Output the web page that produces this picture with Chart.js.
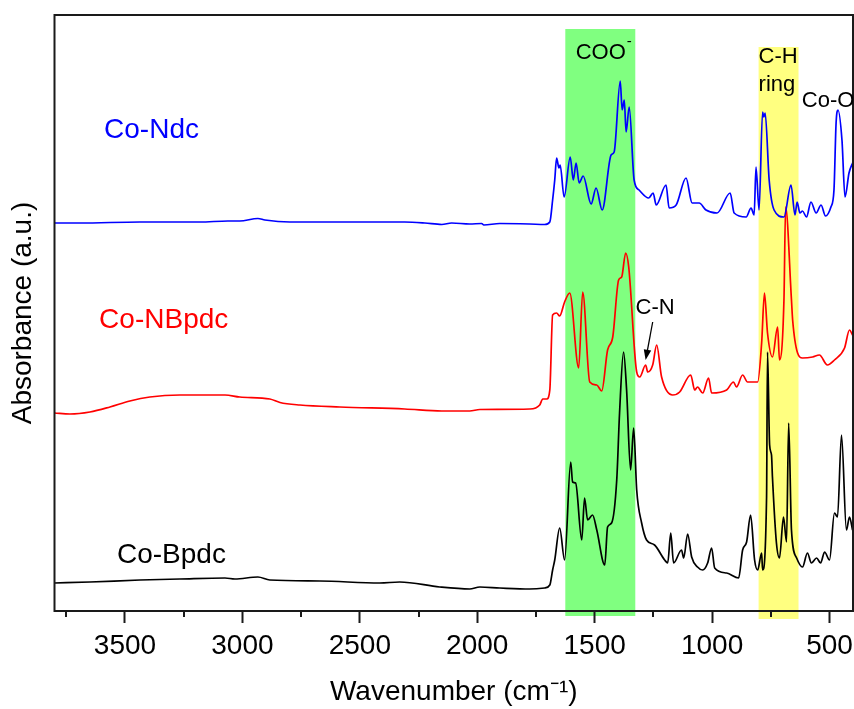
<!DOCTYPE html>
<html>
<head>
<meta charset="utf-8">
<script src="https://cdn.jsdelivr.net/npm/chart.js@4.4.1/dist/chart.umd.min.js"></script>
<style>
  html, body { margin: 0; padding: 0; background: #fff; }
  #wrap { width: 854px; height: 709px; }
</style>
</head>
<body>
<div id="wrap"><canvas id="ftir"></canvas></div>
<script>
// FTIR spectra, stacked with offsets: [wavenumber (cm-1), absorbance (a.u.)]
const coNdc = [
  [3800, 388], [3691, 388], [3436, 389], [3181, 389], [3062, 390], [3011, 390],
  [2934, 392.5], [2904, 391], [2798, 389], [2309, 389], [2223, 388], [2151, 386.5],
  [2109, 388], [2032, 387], [1981, 387.5], [1972, 386], [1904, 387.5], [1777, 387],
  [1713, 386.5], [1691, 389], [1679, 411], [1670, 431], [1662, 453], [1652, 443],
  [1647, 446], [1630, 414], [1604, 454], [1591, 431], [1579, 448], [1566, 428],
  [1549, 435], [1515, 407], [1494, 423], [1468, 401], [1430, 456], [1417, 459],
  [1391, 530], [1383, 501], [1374, 511], [1366, 479], [1353, 504], [1332, 431],
  [1311, 421], [1270, 413], [1251, 418], [1238, 406], [1196, 426], [1183, 403],
  [1153, 406], [1111, 433], [1085, 408], [1055, 408], [1026, 401], [979, 398],
  [923, 418], [906, 398], [855, 394], [834, 403], [821, 396], [813, 444],
  [800, 401], [785, 499], [780, 494], [774, 498], [757, 431], [736, 401],
  [694, 394], [664, 426], [647, 396], [638, 409], [626, 398], [615, 400],
  [598, 394], [579, 409], [557, 398], [536, 406], [517, 395], [494, 404],
  [481, 421], [472, 488], [464, 501], [447, 471], [434, 414], [417, 438], [400, 449]
];

const coNBpdc = [
  [3800, 198], [3734, 197], [3649, 199], [3564, 204], [3479, 210], [3394, 214],
  [3266, 216], [3138, 216], [3074, 216], [3011, 214], [2883, 212], [2840, 208.5],
  [2755, 206], [2585, 204], [2309, 202], [2151, 200], [2032, 200], [1989, 201.5],
  [1777, 202], [1734, 206], [1721, 212], [1704, 212], [1691, 221], [1679, 296],
  [1662, 298], [1649, 295], [1628, 309], [1606, 318], [1568, 243], [1551, 319],
  [1521, 229], [1491, 226], [1470, 220], [1445, 261], [1423, 274], [1398, 331],
  [1385, 334], [1368, 358], [1355, 344], [1321, 239], [1308, 234], [1283, 246],
  [1274, 239], [1253, 246], [1236, 266], [1215, 234], [1168, 216], [1138, 219],
  [1091, 236], [1074, 221], [1062, 224], [1040, 218], [1015, 233], [1002, 218],
  [938, 221], [909, 229], [896, 224], [870, 236], [849, 229], [806, 229],
  [789, 268], [777, 318], [764, 278], [743, 254], [721, 284], [713, 251],
  [694, 311], [687, 404], [662, 311], [657, 291], [636, 258], [615, 253],
  [572, 254], [543, 256], [509, 246], [479, 251], [436, 263], [415, 281], [402, 276]
];

const coBpdc = [
  [3800, 28], [3649, 29], [3436, 31], [3266, 32], [3074, 33], [3032, 32],
  [2934, 34], [2883, 31], [2670, 30], [2415, 28], [2330, 29], [2160, 24],
  [2032, 22], [1989, 24], [1904, 23], [1777, 22], [1713, 23], [1691, 26],
  [1679, 41], [1670, 51], [1649, 83], [1628, 51], [1602, 149], [1594, 129],
  [1581, 128], [1555, 71], [1543, 113], [1530, 91], [1509, 96], [1491, 81],
  [1457, 46], [1445, 84], [1428, 88], [1406, 131], [1394, 198], [1377, 259],
  [1364, 221], [1347, 141], [1334, 183], [1321, 121], [1300, 88], [1279, 71],
  [1245, 66], [1202, 51], [1189, 48], [1176, 78], [1164, 48], [1130, 61],
  [1121, 53], [1104, 77], [1087, 54], [1062, 44], [1040, 41], [1019, 48],
  [1002, 63], [989, 43], [938, 38], [887, 33], [870, 61], [853, 69],
  [836, 96], [819, 51], [806, 41], [789, 58], [785, 41], [768, 114],
  [764, 259], [755, 166], [747, 156], [743, 134], [726, 68], [713, 53],
  [696, 94], [683, 69], [674, 188], [662, 81], [640, 53], [615, 44],
  [594, 58], [577, 48], [555, 53], [538, 48], [521, 59], [500, 51],
  [479, 98], [466, 94], [449, 176], [428, 81], [415, 94], [402, 81]
];

const seriesNames = ['Co-Ndc', 'Co-NBpdc', 'Co-Bpdc'];
const seriesColors = ['#0000ff', '#ff0000', '#000000'];

// highlighted regions, cm-1
const cooBand = [1625, 1327];
const chBand = [802, 632];

const FONT = '"Liberation Sans", Arial, sans-serif';

function toXY(arr) {
  return arr.map(p => ({ x: p[0], y: p[1] }));
}

// coloured bands behind everything (they hang a little below the axis)
const bandPlugin = {
  id: 'bands',
  beforeDraw(chart) {
    const { ctx, scales: { x, y } } = chart;
    ctx.save();
    const fill = (band, top, bottom, color) => {
      const x1 = x.getPixelForValue(band[0]);
      const x2 = x.getPixelForValue(band[1]);
      const y1 = y.getPixelForValue(top);
      const y2 = y.getPixelForValue(bottom);
      ctx.fillStyle = color;
      ctx.fillRect(x1, y1, x2 - x1, y2 - y1);
    };
    fill(cooBand, 582, -5, '#80ff80');
    fill(chBand, 564, -8, '#ffff80');
    ctx.restore();
  }
};

// box frame, short minor ticks, labels and the C-N arrow
const decorPlugin = {
  id: 'decor',
  afterDatasetsDraw(chart) {
    const { ctx, chartArea: a, scales: { x, y } } = chart;
    ctx.save();
    ctx.strokeStyle = '#1a1a1a';
    ctx.lineWidth = 2;
    ctx.strokeRect(a.left, a.top, a.right - a.left, a.bottom - a.top);

    // minor ticks every 250
    ctx.beginPath();
    for (let v = 750; v < 3800; v += 500) {
      const px = Math.round(x.getPixelForValue(v));
      ctx.moveTo(px, a.bottom);
      ctx.lineTo(px, a.bottom + 6);
    }
    ctx.stroke();

    const text = (str, wn, val, size, color) => {
      ctx.font = size + 'px ' + FONT;
      ctx.fillStyle = color;
      ctx.textBaseline = 'alphabetic';
      ctx.textAlign = 'left';
      ctx.fillText(str, x.getPixelForValue(wn), y.getPixelForValue(val));
      return ctx.measureText(str).width;
    };

    // series names
    text(seriesNames[0], 3589, 473, 28, seriesColors[0]);
    text(seriesNames[1], 3610, 283, 28, seriesColors[1]);
    text(seriesNames[2], 3534, 48, 28, seriesColors[2]);

    // band assignments
    const w = text('COO', 1581, 552, 22, '#000');
    ctx.font = '15px ' + FONT;
    ctx.fillText('-', x.getPixelForValue(1581) + w + 1, y.getPixelForValue(565));
    text('C-H', 802, 548, 22, '#000');
    text('ring', 802, 520, 22, '#000');
    text('Co-O', 618, 504, 22, '#000');
    text('C-N', 1326, 297, 22, '#000');

    // arrow pointing at the C-N shoulder
    const sx = x.getPixelForValue(1253), sy = y.getPixelForValue(289);
    const tx = x.getPixelForValue(1283), ty = y.getPixelForValue(251);
    const ang = Math.atan2(ty - sy, tx - sx);
    const head = 11;
    ctx.strokeStyle = '#000';
    ctx.lineWidth = 1.3;
    ctx.beginPath();
    ctx.moveTo(sx, sy);
    ctx.lineTo(tx - Math.cos(ang) * head * 0.8, ty - Math.sin(ang) * head * 0.8);
    ctx.stroke();
    ctx.fillStyle = '#000';
    ctx.beginPath();
    ctx.moveTo(tx, ty);
    ctx.lineTo(tx - head * Math.cos(ang - 0.35), ty - head * Math.sin(ang - 0.35));
    ctx.lineTo(tx - head * Math.cos(ang + 0.35), ty - head * Math.sin(ang + 0.35));
    ctx.closePath();
    ctx.fill();
    ctx.restore();
  }
};

const spectra = [coNdc, coNBpdc, coBpdc];

new Chart(document.getElementById('ftir'), {
  type: 'line',
  data: {
    datasets: spectra.map((s, i) => ({
      label: seriesNames[i],
      data: toXY(s),
      borderColor: seriesColors[i],
      borderWidth: 1.7,
      pointRadius: 0,
      fill: false,
      cubicInterpolationMode: 'monotone'
    }))
  },
  options: {
    responsive: true,
    maintainAspectRatio: false,
    animation: false,
    layout: { padding: { top: 15, right: 1, left: 0, bottom: 0 } },
    plugins: { legend: { display: false }, tooltip: { enabled: false } },
    scales: {
      x: {
        type: 'linear',
        reverse: true,
        min: 400,
        max: 3800,
        border: { display: false },
        grid: {
          drawOnChartArea: false,
          tickLength: 12,
          tickWidth: 2,
          tickColor: c => (c.tick && c.tick.value % 500 === 0) ? '#1a1a1a' : 'rgba(0,0,0,0)'
        },
        ticks: {
          stepSize: 250,
          includeBounds: false,
          autoSkip: false,
          maxRotation: 0,
          maxTicksLimit: 30,
          padding: 6,
          color: '#000',
          font: { family: FONT, size: 28 },
          callback: v => (v % 500 === 0 ? String(v) : '')
        },
        title: {
          display: true,
          text: 'Wavenumber (cm⁻¹)',
          color: '#000',
          font: { family: FONT, size: 28 },
          padding: { top: 0, bottom: 0 }
        },
        afterFit: s => {
          s.height = 98;
          // let the "500" label run to the canvas edge instead of shrinking the plot
          s.paddingLeft = 0;
          s.paddingRight = 0;
        }
      },
      y: {
        min: 0,
        max: 596,
        border: { display: false },
        grid: { display: false },
        ticks: { display: false },
        title: {
          display: true,
          text: 'Absorbance (a.u.)',
          color: '#000',
          font: { family: FONT, size: 28 },
          padding: { top: 6, bottom: 0 }
        },
        afterFit: s => { s.width = 54.5; }
      }
    }
  },
  plugins: [bandPlugin, decorPlugin]
});
</script>
</body>
</html>
